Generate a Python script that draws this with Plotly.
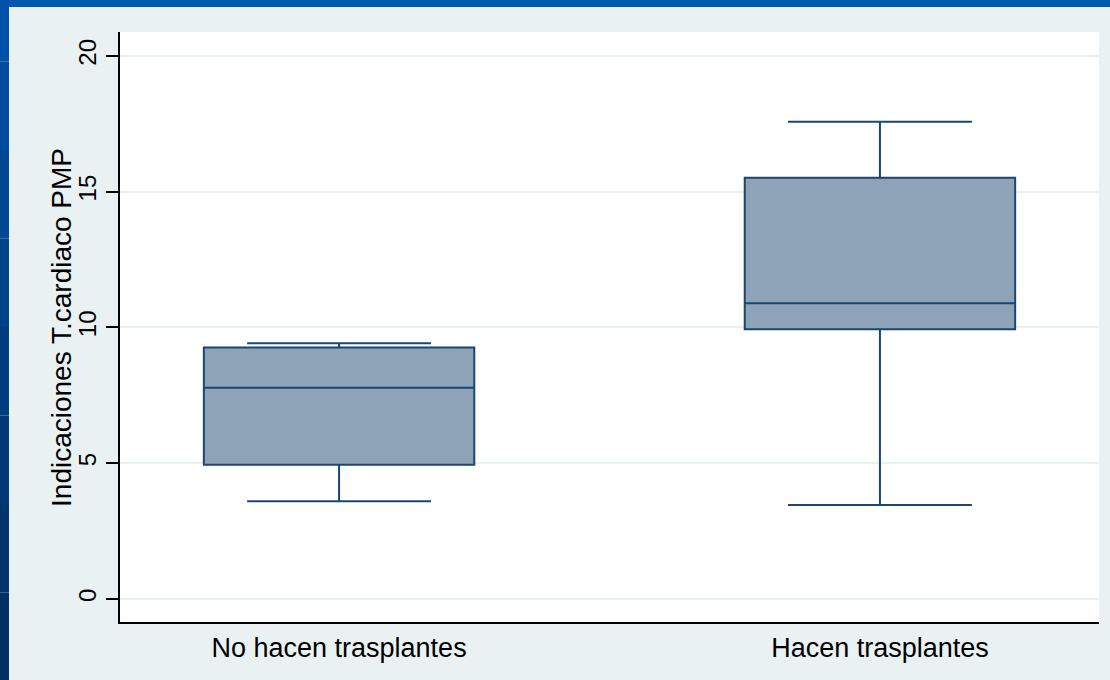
import plotly.graph_objects as go

# Box plot summaries per group
groups = ["No hacen trasplantes", "Hacen trasplantes"]
lower_whisker = [3.60, 3.46]
q1 = [4.94, 9.93]
median = [7.78, 10.89]
q3 = [9.26, 15.51]
upper_whisker = [9.42, 17.57]

y_ticks = [0, 5, 10, 15, 20]
y_title = "Indicaciones T.cardiaco PMP"

NAVY = "#1A476F"
FILL = "#8EA3B7"
BG = "#EAF1F3"

fig = go.Figure()
fig.add_trace(go.Box(
    x=groups,
    q1=q1,
    median=median,
    q3=q3,
    lowerfence=lower_whisker,
    upperfence=upper_whisker,
    fillcolor=FILL,
    line=dict(color=NAVY, width=2),
    width=0.5,
    whiskerwidth=0.68,
    boxpoints=False,
    hoverinfo="skip",
    showlegend=False,
))

# Blue frame along the top and left edges of the page
shapes = [dict(type="rect", xref="paper", yref="paper",
               x0=-0.2, x1=1.05, y0=1.0424, y1=1.1,
               fillcolor="#0057B0", line_width=0, layer="above")]
left_cols = ["#0052A8", "#004D9E", "#004794", "#00428A", "#003D80", "#003876", "#00346C", "#003064"]
n = len(left_cols)
ytop, ybot = 1.1, -0.1
for i, c in enumerate(left_cols):
    shapes.append(dict(type="rect", xref="paper", yref="paper",
                       x0=-0.2, x1=-0.1134,
                       y1=ytop - (ytop - ybot) * i / n,
                       y0=ytop - (ytop - ybot) * (i + 1) / n,
                       fillcolor=c, line_width=0, layer="above"))

fig.update_layout(
    width=1110,
    height=680,
    margin=dict(l=120, r=11, t=32, b=58),
    paper_bgcolor=BG,
    plot_bgcolor="white",
    font=dict(family="Liberation Sans, Arial, sans-serif", color="black", size=24),
    shapes=shapes,
    annotations=[dict(
        text=y_title, textangle=-90, xref="paper", yref="paper",
        x=-0.0603, y=0.5, xanchor="center", yanchor="middle",
        showarrow=False, font=dict(size=28),
    )],
    xaxis=dict(
        type="category",
        range=[-0.405, 1.405],
        showgrid=False,
        showline=True,
        linecolor="black",
        linewidth=2,
        ticks="outside",
        ticklen=1,
        tickcolor="rgba(0,0,0,0)",
        tickfont=dict(size=27),
        zeroline=False,
        fixedrange=True,
    ),
    yaxis=dict(
        range=[-0.85, 20.88],
        tickvals=y_ticks,
        ticktext=[str(v) for v in y_ticks],
        tickangle=-90,
        ticks="outside",
        ticklen=12,
        tickwidth=1.5,
        tickcolor="black",
        showline=True,
        linecolor="black",
        linewidth=2,
        showgrid=True,
        gridcolor=BG,
        gridwidth=1.5,
        zeroline=False,
        tickfont=dict(size=24),
        fixedrange=True,
    ),
)

fig.write_html("out.html")
